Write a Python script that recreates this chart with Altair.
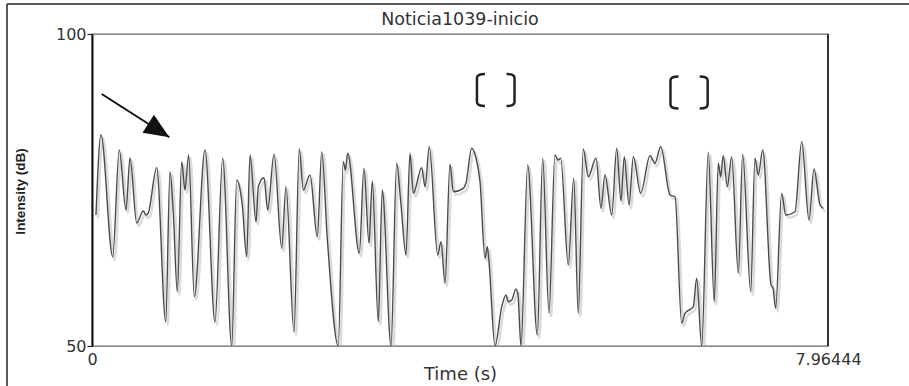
import altair as alt
import pandas as pd

# Intensity contour: time (s) and intensity (dB)
time_s = [
    0.043, 0.097, 0.224, 0.295, 0.368, 0.411, 0.484, 0.555, 0.584, 0.609,
    0.700, 0.798, 0.844, 0.880, 0.923, 0.971, 1.006, 1.046, 1.107, 1.223,
    1.331, 1.414, 1.512, 1.566, 1.626, 1.674, 1.710, 1.775, 1.800, 1.861,
    1.901, 1.970, 2.053, 2.099, 2.186, 2.243, 2.287, 2.359, 2.438, 2.486,
    2.546, 2.665, 2.719, 2.742, 2.767, 2.893, 2.943, 2.998, 3.033, 3.098,
    3.141, 3.236, 3.297, 3.341, 3.398, 3.441, 3.477, 3.568, 3.604, 3.650,
    3.741, 3.777, 3.820, 3.874, 3.910, 4.018, 4.047, 4.109, 4.155, 4.199,
    4.253, 4.278, 4.296, 4.361, 4.434, 4.480, 4.505, 4.542, 4.588, 4.610,
    4.642, 4.715, 4.819, 4.877, 4.945, 5.010, 5.042, 5.072, 5.154, 5.213,
    5.262, 5.316, 5.371, 5.454, 5.508, 5.551, 5.624, 5.678, 5.724, 5.760,
    5.811, 5.858, 5.937, 6.038, 6.092, 6.154, 6.255, 6.309, 6.381, 6.417,
    6.507, 6.543, 6.598, 6.669, 6.734, 6.777, 6.803, 6.831, 6.875, 6.922,
    6.994, 7.041, 7.128, 7.174, 7.210, 7.258, 7.348, 7.369, 7.398, 7.463,
    7.507, 7.607, 7.680, 7.759, 7.813, 7.878, 7.914,
]
intensity_db = [
    70.99, 83.81, 64.31, 81.41, 71.79, 80.13, 69.71, 71.63, 70.99, 71.31,
    78.57, 53.89, 77.93, 71.31, 58.70, 79.54, 75.00, 80.61, 57.90, 81.41,
    53.85, 80.08, 50.00, 76.60, 72.60, 64.31, 80.61, 69.92, 75.53, 76.97,
    71.79, 80.72, 65.66, 75.53, 52.29, 81.57, 75.00, 77.40, 67.52, 81.14,
    67.26, 50.00, 79.54, 78.21, 80.88, 64.86, 78.48, 66.46, 76.44, 53.89,
    75.00, 50.00, 79.28, 73.12, 64.58, 80.88, 74.47, 78.57, 75.53, 81.94,
    64.58, 66.71, 60.05, 79.12, 74.73, 75.27, 76.12, 81.68, 80.13, 76.33,
    64.05, 65.91, 63.46, 50.00, 56.30, 58.17, 57.10, 57.37, 59.13, 58.17,
    50.00, 79.01, 51.76, 80.08, 55.24, 80.61, 79.81, 80.08, 62.98, 76.88,
    55.24, 81.57, 77.13, 80.08, 72.07, 77.40, 70.99, 81.68, 73.24, 80.34,
    72.60, 80.34, 74.47, 80.50, 79.28, 81.94, 74.20, 73.93, 53.64, 55.24,
    56.30, 60.85, 50.00, 81.04, 57.10, 79.28, 77.13, 80.50, 75.53, 80.34,
    61.65, 80.72, 58.70, 80.08, 77.40, 81.41, 59.78, 59.29, 56.04, 74.47,
    70.99, 71.52, 82.74, 70.19, 78.37, 72.60, 72.07,
]

# Annotation: arrow pointing at the start of the contour
arrow_from_t = [0.105]
arrow_from_db = [90.38]
arrow_to_t = [0.8365]
arrow_to_db = [83.45]

# Annotation: bracket pairs above two stretches of the contour
bracket_open_t = [4.209, 6.303]
bracket_close_t = [4.529, 6.619]
bracket_db = [91.03, 90.63]

TITLE = "Noticia1039-inicio"
T_END = 7.96444

contour = pd.DataFrame({"time": time_s, "db": intensity_db})
arrow = pd.DataFrame({"time": arrow_from_t, "db": arrow_from_db,
                      "time2": arrow_to_t, "db2": arrow_to_db})
arrow_head = pd.DataFrame({"time": arrow_to_t, "db": arrow_to_db})
open_br = pd.DataFrame({"time": bracket_open_t, "db": bracket_db})
close_br = pd.DataFrame({"time": bracket_close_t, "db": bracket_db})
one = pd.DataFrame({"k": [0]})

W, H = 736, 312
INK = "#333333"

x_scale = alt.Scale(domain=[0, T_END], nice=False, zero=False)
y_scale = alt.Scale(domain=[50, 100], nice=False, zero=False)

x_axis = alt.Axis(
    values=[0, T_END], format=".6~g", title="Time (s)",
    grid=False, domain=False, ticks=False, labelPadding=5,
    labelFont="DejaVu Sans", labelFontSize=16, labelColor=INK,
    labelOverlap=False, labelFlush=False, labelBound=False,
    titleFont="DejaVu Sans", titleFontSize=18, titleFontWeight="normal",
    titleColor=INK, titleX=368, titleY=28, titleAlign="center",
    titleBaseline="middle",
)
y_axis = alt.Axis(
    values=[50, 100], title="Intensity (dB)",
    grid=False, domain=True, domainColor="#111111", domainWidth=2,
    ticks=True, tickSize=5, tickColor="#222222", tickWidth=1.2,
    labelPadding=1, labelFont="DejaVu Sans", labelFontSize=16,
    labelColor=INK, labelOverlap=False, labelFlush=False, labelBound=False,
    titleFont="Liberation Sans", titleFontSize=13.5, titleFontWeight="bold",
    titleColor="#222222", titleAngle=-90, titleX=-71.5, titleY=157,
    titleAlign="center", titleBaseline="middle",
)


def X(field):
    return alt.X(field, type="quantitative", scale=x_scale, axis=x_axis)


def Y(field):
    return alt.Y(field, type="quantitative", scale=y_scale, axis=y_axis)


shadow = alt.Chart(contour).mark_line(
    interpolate="monotone", color="#bdbdbd", strokeWidth=2.5,
    opacity=0.55, xOffset=2, yOffset=3, clip=True,
).encode(x=X("time"), y=Y("db"))

line = alt.Chart(contour).mark_line(
    interpolate="monotone", color="#4a4a4a", strokeWidth=1.4, clip=True,
).encode(x=X("time"), y=Y("db"))

arrow_shaft = alt.Chart(arrow).mark_rule(color="#111111", strokeWidth=2).encode(
    x=X("time"), y=Y("db"), x2="time2:Q", y2="db2:Q"
)
arrow_tip = alt.Chart(arrow_head).mark_point(
    shape="M 0 0 L -2 -0.85 L -2 0.85 Z", filled=True, color="#111111",
    opacity=1, size=625, angle=32.6,
).encode(x=X("time"), y=Y("db"))

bracket_open = alt.Chart(open_br).mark_point(
    shape="M 0.25 -1 Q -0.25 -1 -0.25 -0.75 L -0.25 0.75 Q -0.25 1 0.25 1",
    filled=False, color="#222222", strokeWidth=2.5, opacity=1, size=1024,
).encode(x=X("time"), y=Y("db"))
bracket_close = alt.Chart(close_br).mark_point(
    shape="M -0.25 -1 Q 0.25 -1 0.25 -0.75 L 0.25 0.75 Q 0.25 1 -0.25 1",
    filled=False, color="#222222", strokeWidth=2.5, opacity=1, size=1024,
).encode(x=X("time"), y=Y("db"))

title_text = alt.Chart(one).mark_text(
    text=TITLE, font="DejaVu Sans", fontSize=17.5, color=INK,
    align="center", baseline="middle",
).encode(x=alt.value(368), y=alt.value(-14.5))

# Outer frame (top and left edges) and darker right edge of the plot box
frame_top = alt.Chart(one).mark_rule(color="#222222", strokeWidth=1.5).encode(
    x=alt.value(-85), x2=alt.value(W + 81), y=alt.value(-30)
)
frame_left = alt.Chart(one).mark_rule(color="#222222", strokeWidth=1.5).encode(
    x=alt.value(-85), y=alt.value(-30), y2=alt.value(H + 40)
)
box_right = alt.Chart(one).mark_rule(color="#333333", strokeWidth=2).encode(
    x=alt.value(W), y=alt.value(0), y2=alt.value(H)
)

chart = alt.layer(
    shadow, line, arrow_shaft, arrow_tip, bracket_open, bracket_close,
    title_text, frame_top, frame_left, box_right,
).properties(
    width=W, height=H,
    padding={"left": 92, "top": 34, "right": 81, "bottom": 40},
    autosize=alt.AutoSizeParams(type="none"),
    background="white",
).configure_view(stroke="#666666", strokeWidth=1.3)

chart.save("out.html", embed_options={"renderer": "svg", "actions": False})
